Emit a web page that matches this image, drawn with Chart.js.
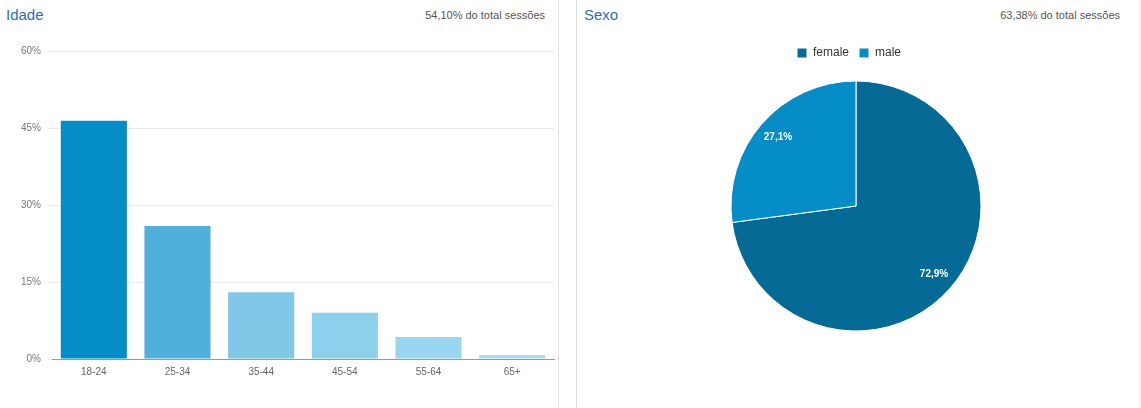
<!DOCTYPE html>
<html>
<head>
<meta charset="utf-8">
<script src="https://cdn.jsdelivr.net/npm/chart.js@4/dist/chart.umd.min.js"></script>
<style>
  html, body { margin:0; padding:0; background:#fff; }
  body { width:1141px; height:408px; position:relative; overflow:hidden; font-family:"Liberation Sans", Arial, sans-serif; }
  .title { position:absolute; top:6px; font-size:15px; color:#2a6ebb; }
  .sub { position:absolute; top:9px; font-size:11px; color:#555; text-align:right; }
  .vline { position:absolute; top:0; width:1px; height:408px; background:#e2e2e2; }
  .box { position:absolute; top:0; height:408px; }
</style>
</head>
<body>
<div class="vline" style="left:558px;"></div>
<div class="vline" style="left:576px;background:#dcdcdc;"></div>
<div class="vline" style="left:1139px;background:#ececec;"></div>
<div class="title" style="left:6px;">Idade</div>
<div class="sub" style="left:300px;width:245px;">54,10% do total sessões</div>
<div class="title" style="left:584px;">Sexo</div>
<div class="sub" style="left:870px;width:250px;">63,38% do total sessões</div>
<div class="box" style="left:0;width:557px;"><canvas id="bar"></canvas></div>
<div class="box" style="left:577px;width:562px;"><canvas id="pie"></canvas></div>
<script>
const ageCategories = ['18-24', '25-34', '35-44', '45-54', '55-64', '65+'];
const ageValues = [46.4, 25.9, 13.0, 9.0, 4.3, 0.8];
const ageColors = ['#058DC7', '#50B0DB', '#80C8E8', '#8DD0EC', '#9AD6F1', '#A6DCF4'];
const yTicks = [0, 15, 30, 45, 60];
const genderCategories = ['female', 'male'];
const genderValues = [72.9, 27.1];
const genderColors = ['#066A96', '#058DC7'];

Chart.defaults.font.family = '"Liberation Sans", Arial, sans-serif';
Chart.defaults.animation = false;

new Chart(document.getElementById('bar'), {
  type: 'bar',
  data: {
    labels: ageCategories,
    datasets: [{ data: ageValues, backgroundColor: ageColors, barPercentage: 0.79, categoryPercentage: 1.0, borderWidth: 0 }]
  },
  options: {
    responsive: true, maintainAspectRatio: false,
    layout: { padding: { top: 51, right: 3, left: 0, bottom: 0 } },
    plugins: { legend: { display: false }, tooltip: { enabled: false } },
    scales: {
      x: {
        grid: { display: false, drawTicks: false },
        border: { display: true, color: '#999', width: 1 },
        ticks: { color: '#666', font: { size: 10 }, padding: 7 },
        afterFit: s => { s.height = 49; }
      },
      y: {
        min: 0, max: 60,
        afterBuildTicks: s => { s.ticks = yTicks.map(v => ({ value: v })); },
        grid: { color: '#ebebeb', drawTicks: true, tickLength: 4 },
        border: { display: false },
        ticks: { color: '#777', font: { size: 10 }, padding: 7, callback: v => v + '%' },
        afterFit: s => { s.width = 52; }
      }
    }
  }
});

const pieLabels = {
  id: 'pieLabels',
  afterLayout(chart) {
    if (chart.legend) { chart.legend.left -= 7; chart.legend.right -= 7; }
  },
  afterDatasetsDraw(chart) {
    const ctx = chart.ctx;
    const meta = chart.getDatasetMeta(0);
    ctx.save();
    ctx.fillStyle = '#fff';
    ctx.font = 'bold 10px "Liberation Sans", Arial, sans-serif';
    ctx.textAlign = 'center';
    ctx.textBaseline = 'middle';
    meta.data.forEach((arc, i) => {
      const p = arc.getProps(['x', 'y', 'startAngle', 'endAngle', 'outerRadius']);
      const mid = (p.startAngle + p.endAngle) / 2;
      const r = p.outerRadius * 0.83;
      const txt = genderValues[i].toFixed(1).replace('.', ',') + '%';
      ctx.fillText(txt, p.x + Math.cos(mid) * r, p.y + Math.sin(mid) * r);
    });
    ctx.restore();
  }
};

new Chart(document.getElementById('pie'), {
  type: 'pie',
  data: {
    labels: genderCategories,
    datasets: [{ data: genderValues, backgroundColor: genderColors, borderColor: '#fff', borderWidth: 1, radius: 125 }]
  },
  options: {
    responsive: true, maintainAspectRatio: false,
    layout: { padding: { top: 37, right: 4, left: 0, bottom: 65 } },
    plugins: {
      legend: {
        display: true, position: 'top',
        labels: { boxWidth: 10, boxHeight: 10, color: '#333', font: { size: 12 }, padding: 10 }
      },
      tooltip: { enabled: false }
    }
  },
  plugins: [pieLabels]
});
</script>
</body>
</html>
